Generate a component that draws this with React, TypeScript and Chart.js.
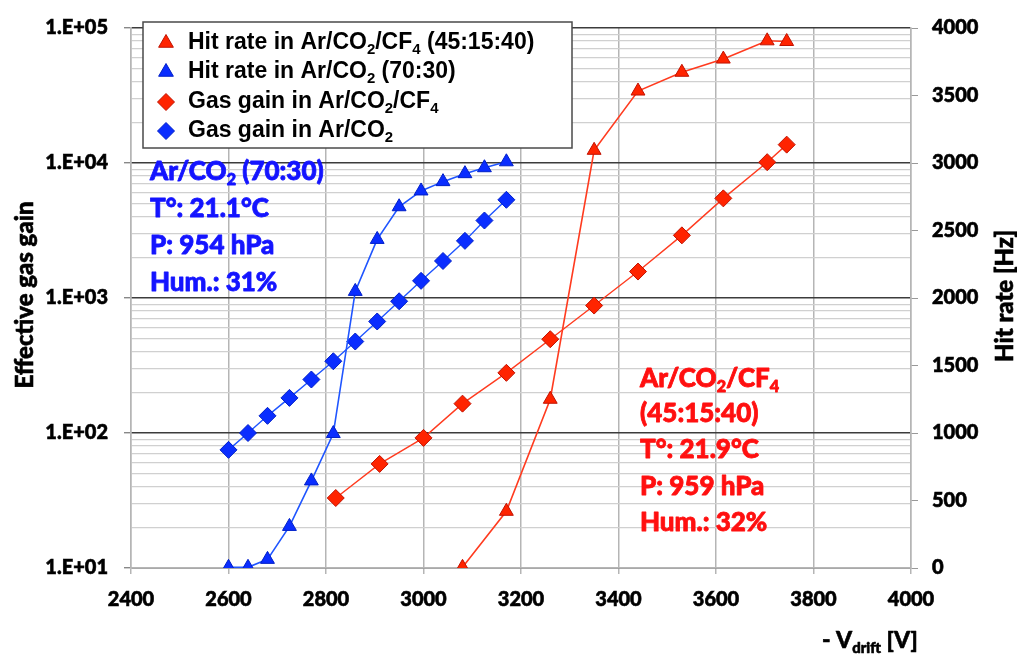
import React, { useEffect, useRef } from "react";
import { Chart, registerables } from "chart.js";

Chart.register(...registerables);

// ---- data ----
const blueGainV = [2600, 2640, 2680, 2725, 2770, 2815, 2860, 2905, 2950, 2995, 3040, 3085, 3125, 3170];
const blueGain = [75, 100, 134, 182, 249, 340, 476, 670, 946, 1340, 1880, 2650, 3750, 5340];
const blueRateV = [2600, 2640, 2680, 2725, 2770, 2815, 2860, 2905, 2950, 2995, 3040, 3085, 3125, 3170];
const blueRate = [5, 5, 64, 308, 645, 996, 2049, 2434, 2676, 2793, 2862, 2921, 2965, 3009];
const redRateV = [3080, 3170, 3260, 3350, 3440, 3530, 3615, 3705, 3745];
const redRate = [5, 420, 1250, 3094, 3533, 3672, 3770, 3905, 3900];
const redGainV = [2820, 2910, 3000, 3080, 3170, 3260, 3350, 3440, 3530, 3615, 3705, 3745];
const redGain = [33, 59, 92, 165, 279, 495, 879, 1570, 2911, 5470, 10140, 13680];

const xMin = 2400;
const xMax = 4000;
const xStep = 200;
const gainMin = 10;
const gainMax = 100000;
const rateMin = 0;
const rateMax = 4000;
const rateStep = 500;

const RED_LINE = "#ff3b1f";
const RED_FILL = "#ff2400";
const RED_EDGE = "#c01200";
const BLUE_LINE = "#1f55ff";
const BLUE_FILL = "#0a2dff";
const BLUE_EDGE = "#001fc8";

type Part = { t: string; sub?: boolean };

const legendItems: { shape: "tri" | "dia"; fill: string; edge: string; parts: Part[] }[] = [
  { shape: "tri", fill: RED_FILL, edge: RED_EDGE, parts: [{ t: "Hit rate in Ar/CO" }, { t: "2", sub: true }, { t: "/CF" }, { t: "4", sub: true }, { t: " (45:15:40)" }] },
  { shape: "tri", fill: BLUE_FILL, edge: BLUE_EDGE, parts: [{ t: "Hit rate in Ar/CO" }, { t: "2", sub: true }, { t: " (70:30)" }] },
  { shape: "dia", fill: RED_FILL, edge: RED_EDGE, parts: [{ t: "Gas gain in Ar/CO" }, { t: "2", sub: true }, { t: "/CF" }, { t: "4", sub: true }] },
  { shape: "dia", fill: BLUE_FILL, edge: BLUE_EDGE, parts: [{ t: "Gas gain in Ar/CO" }, { t: "2", sub: true }] },
];

const blueNote: Part[][] = [
  [{ t: "Ar/CO" }, { t: "2", sub: true }, { t: " (70:30)" }],
  [{ t: "T°: 21.1°C" }],
  [{ t: "P: 954 hPa" }],
  [{ t: "Hum.: 31%" }],
];
const redNote: Part[][] = [
  [{ t: "Ar/CO" }, { t: "2", sub: true }, { t: "/CF" }, { t: "4", sub: true }],
  [{ t: "(45:15:40)" }],
  [{ t: "T°: 21.9°C" }],
  [{ t: "P: 959 hPa" }],
  [{ t: "Hum.: 32%" }],
];

const FONT = "Lato";
const W = 900;

function drawRich(ctx: CanvasRenderingContext2D, x: number, y: number, parts: Part[], size: number, family: string, color: string, weight: number | string = W, stroke = 0.5, subScale = 0.62, subDrop = 0.3) {
  ctx.save();
  ctx.fillStyle = color;
  ctx.strokeStyle = color;
  ctx.lineWidth = stroke;
  ctx.lineJoin = "round";
  ctx.textBaseline = "middle";
  ctx.textAlign = "left";
  let cx = x;
  for (const p of parts) {
    const s = p.sub ? size * subScale : size;
    ctx.font = `${weight} ${s}px "${family}"`;
    const yy = p.sub ? y + size * subDrop : y;
    ctx.fillText(p.t, cx, yy);
    if (stroke > 0) ctx.strokeText(p.t, cx, yy);
    cx += ctx.measureText(p.t).width;
  }
  ctx.restore();
}

function drawMarker(ctx: CanvasRenderingContext2D, shape: string, x: number, y: number, r: number, fill: string, edge: string) {
  ctx.save();
  ctx.beginPath();
  if (shape === "tri") {
    const h = r * 1.5;
    const w = r * Math.sqrt(3);
    ctx.moveTo(x, y - r);
    ctx.lineTo(x + w / 2, y - r + h);
    ctx.lineTo(x - w / 2, y - r + h);
  } else {
    ctx.moveTo(x - r, y);
    ctx.lineTo(x, y - r);
    ctx.lineTo(x + r, y);
    ctx.lineTo(x, y + r);
  }
  ctx.closePath();
  ctx.fillStyle = fill;
  ctx.fill();
  ctx.strokeStyle = edge;
  ctx.lineWidth = 1;
  ctx.stroke();
  ctx.restore();
}

const isDecade = (v: number) => {
  const e = Math.log10(v);
  return Math.abs(e - Math.round(e)) < 1e-9;
};

const overlayPlugin = {
  id: "overlay",
  afterDatasetsDraw(chart: any) {
    const ctx: CanvasRenderingContext2D = chart.ctx;
    // legend box
    const bx = 143, by = 22, bw = 429, bh = 126;
    ctx.save();
    ctx.fillStyle = "#ffffff";
    ctx.fillRect(bx, by, bw, bh);
    ctx.strokeStyle = "#4a4a4a";
    ctx.lineWidth = 1.5;
    ctx.strokeRect(bx, by, bw, bh);
    ctx.restore();
    const rowY = [43, 72, 102, 131];
    legendItems.forEach((it, i) => {
      drawMarker(ctx, it.shape, 166, rowY[i], 8.5, it.fill, it.edge);
      drawRich(ctx, 188, rowY[i], it.parts, 23, "Liberation Sans", "#000000", "bold", 0, 0.65, 0.3);
    });
  },
  afterDraw(chart: any) {
    const ctx: CanvasRenderingContext2D = chart.ctx;
    // annotations
    const bY = [172, 209, 246, 283];
    blueNote.forEach((p, i) => drawRich(ctx, 150, bY[i], p, 26, FONT, "#1414ff", W, 0.8));
    const rY = [379, 414, 450, 487, 523];
    redNote.forEach((p, i) => drawRich(ctx, 640, rY[i], p, 26, FONT, "#ff1010", W, 0.8));
    // axis titles
    const title = (text: string, x: number, y: number) => {
      ctx.save();
      ctx.fillStyle = "#000";
      ctx.strokeStyle = "#000";
      ctx.lineWidth = 0.6;
      ctx.font = `${W} 24px "${FONT}"`;
      ctx.textAlign = "center";
      ctx.textBaseline = "middle";
      ctx.translate(x, y);
      ctx.rotate(-Math.PI / 2);
      ctx.fillText(text, 0, 0);
      ctx.strokeText(text, 0, 0);
      ctx.restore();
    };
    title("Effective gas gain", 25, 295);
    title("Hit rate [Hz]", 1005, 296);
    drawRich(ctx, 822, 641, [{ t: "- V" }, { t: "drift", sub: true }, { t: " [V]" }], 23, FONT, "#000000", W, 0.6, 0.65, 0.3);
  },
};

const toXY = (xs: number[], ys: number[]) => xs.map((x, i) => ({ x, y: ys[i] }));

export default function App() {
  const ref = useRef<HTMLCanvasElement>(null);
  useEffect(() => {
    if (!ref.current) return;
    const tickFont = { family: FONT, size: 20, weight: W as any };
    const tickStroke = { textStrokeColor: "#000", textStrokeWidth: 0.6 };
    const chart = new Chart(ref.current, {
      type: "line",
      data: {
        datasets: [
          {
            label: "Hit rate in Ar/CO2/CF4 (45:15:40)",
            data: toXY(redRateV, redRate),
            yAxisID: "y2",
            borderColor: RED_LINE,
            borderWidth: 1.6,
            pointStyle: "triangle",
            pointRadius: 8,
            pointBackgroundColor: RED_FILL,
            pointBorderColor: RED_EDGE,
            pointBorderWidth: 1,
            tension: 0,
          },
          {
            label: "Hit rate in Ar/CO2 (70:30)",
            data: toXY(blueRateV, blueRate),
            yAxisID: "y2",
            borderColor: BLUE_LINE,
            borderWidth: 1.6,
            pointStyle: "triangle",
            pointRadius: 8,
            pointBackgroundColor: BLUE_FILL,
            pointBorderColor: BLUE_EDGE,
            pointBorderWidth: 1,
            tension: 0,
          },
          {
            label: "Gas gain in Ar/CO2/CF4",
            data: toXY(redGainV, redGain),
            yAxisID: "y",
            borderColor: RED_LINE,
            borderWidth: 1.4,
            pointStyle: "rectRot",
            pointRadius: 8.5,
            pointBackgroundColor: RED_FILL,
            pointBorderColor: RED_EDGE,
            pointBorderWidth: 1,
            tension: 0,
          },
          {
            label: "Gas gain in Ar/CO2",
            data: toXY(blueGainV, blueGain),
            yAxisID: "y",
            borderColor: BLUE_LINE,
            borderWidth: 1.4,
            pointStyle: "rectRot",
            pointRadius: 8.5,
            pointBackgroundColor: BLUE_FILL,
            pointBorderColor: BLUE_EDGE,
            pointBorderWidth: 1,
            tension: 0,
          },
        ],
      },
      options: {
        animation: false,
        responsive: false,
        devicePixelRatio: 1,
        layout: { padding: { top: 22, left: 0, right: 0, bottom: 0 } },
        plugins: { legend: { display: false }, tooltip: { enabled: false } },
        scales: {
          x: {
            type: "linear",
            min: xMin,
            max: xMax,
            ticks: { stepSize: xStep, font: tickFont, color: "#000", padding: 14, ...tickStroke, callback: (v: any) => String(v) },
            grid: { color: "#b5b5b5", lineWidth: 1.5, tickLength: 6, tickColor: "#b5b5b5" },
            border: { color: "#b5b5b5", width: 1.5 },
            afterFit: (s: any) => { s.height = 87; },
          },
          y: {
            type: "logarithmic",
            position: "left",
            min: gainMin,
            max: gainMax,
            afterBuildTicks: (s: any) => {
              s.ticks = s.ticks.filter((t: any) => {
                const m = t.value / Math.pow(10, Math.floor(Math.log10(t.value) + 1e-9));
                return Math.abs(m - Math.round(m)) < 1e-6;
              });
            },
            ticks: {
              autoSkip: false,
              font: tickFont,
              color: "#000",
              padding: 16,
              ...tickStroke,
              callback: (v: any) => {
                const n = Number(v);
                if (!isDecade(n)) return "";
                const e = Math.round(Math.log10(n));
                return "1.E+" + String(e).padStart(2, "0");
              },
            },
            grid: {
              color: (c: any) => (c.tick && isDecade(c.tick.value) ? "#3c3c3c" : "#d0d0d0"),
              lineWidth: (c: any) => (c.tick && isDecade(c.tick.value) ? 1.4 : 1.3),
              tickLength: 7,
              tickColor: (c: any) => (c.tick && isDecade(c.tick.value) ? "#888" : "rgba(0,0,0,0)"),
            },
            border: { color: "#b5b5b5", width: 1.5 },
            afterFit: (s: any) => { s.width = 131; },
          },
          y2: {
            type: "linear",
            position: "right",
            min: rateMin,
            max: rateMax,
            ticks: { stepSize: rateStep, font: tickFont, color: "#000", padding: 14, ...tickStroke, callback: (v: any) => String(v) },
            grid: { drawOnChartArea: false, tickLength: 7, color: "#999", lineWidth: 1 },
            border: { color: "#b5b5b5", width: 1.5 },
            afterFit: (s: any) => { s.width = 106; },
          },
        },
      },
      plugins: [overlayPlugin],
    });
    return () => chart.destroy();
  }, []);
  return (
    <div style={{ position: "fixed", left: 0, top: 0, width: 1017, height: 655, background: "#fff" }}>
      <canvas ref={ref} width={1017} height={655} style={{ width: 1017, height: 655 }} />
    </div>
  );
}
